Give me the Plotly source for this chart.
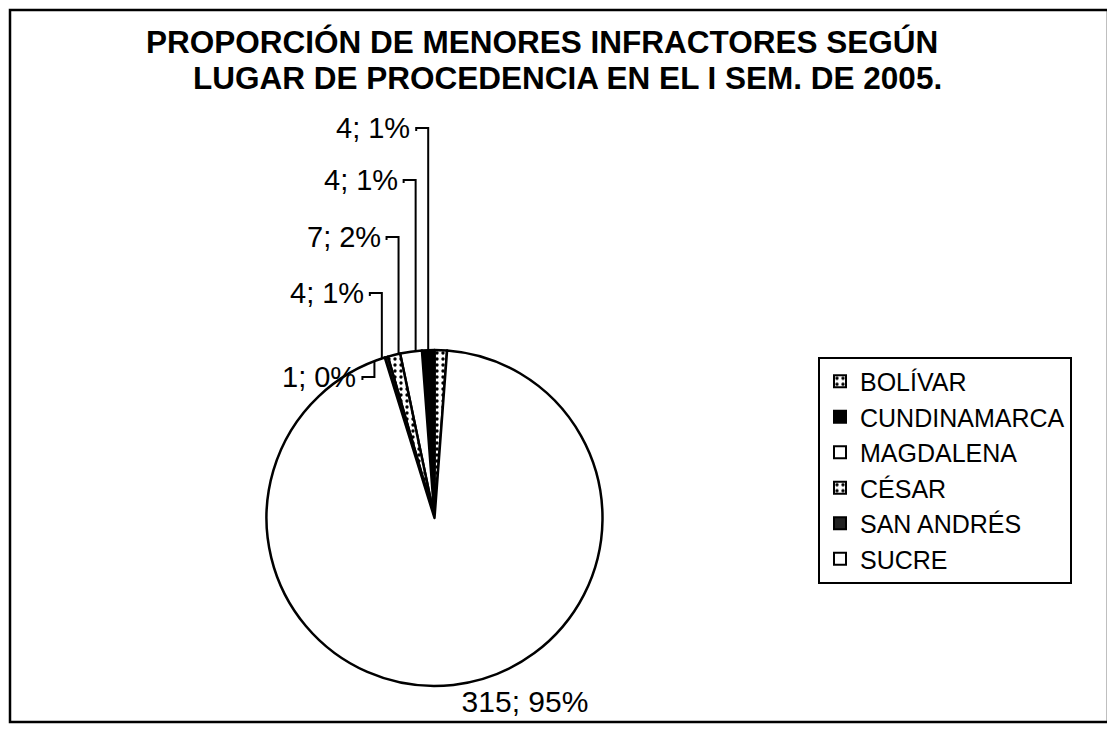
import math
import plotly.graph_objects as go

# ---- data ----
regions = ["BOLÍVAR", "CUNDINAMARCA", "MAGDALENA", "CÉSAR", "SAN ANDRÉS", "SUCRE"]
counts = [4, 4, 7, 4, 1, 315]
pct_labels = ["1%", "1%", "2%", "1%", "0%", "95%"]
title_lines = ["PROPORCIÓN DE MENORES INFRACTORES SEGÚN",
               "LUGAR DE PROCEDENCIA EN EL I SEM. DE 2005."]

# ---- styling / layout (screen pixel targets) ----
fill_colors = ["white", "black", "white", "white", "#222222", "white"]
patterns = [".", "", "", ".", "", ""]
label_y_px = [128, 180, 237, 293, 377]      # stacked label rows for the small slices

OX, OY = 8, 8                 # page body margin
W, H = 1107, 724              # figure size so page fits the 1115x732 window
PIE_CX, PIE_CY, PIE_R = 434.5, 518.0, 168.0
FONT = "Liberation Sans, Arial, sans-serif"


def fx(sx):
    return (sx - OX) / W


def fy(sy):
    return 1 - (sy - OY) / H


dom_x = [fx(PIE_CX - PIE_R), fx(PIE_CX + PIE_R)]
dom_y = [fy(PIE_CY + PIE_R), fy(PIE_CY - PIE_R)]

n = len(counts)
big = n - 1
text_pos = ["none"] * big + ["outside"]

fig = go.Figure()
fig.add_trace(go.Pie(
    labels=regions,
    values=counts,
    text=pct_labels,
    texttemplate="%{value}; %{text}",
    textposition=text_pos,
    textfont=dict(family=FONT, size=30, color="black"),
    sort=False,
    direction="counterclockwise",
    rotation=0,
    marker=dict(
        colors=fill_colors,
        line=dict(color="black", width=2.5),
        pattern=dict(shape=patterns, fgcolor="black", bgcolor="white",
                     size=6, solidity=0.25),
    ),
    domain=dict(x=dom_x, y=dom_y),
    hoverinfo="label+value+percent",
))

# outside labels with elbow leader lines for the small slices
total = sum(counts)
annotations = []
shapes = []
cum = 0.0
for i in range(big):
    mid = (cum + counts[i] / 2) / total * 2 * math.pi
    cum += counts[i]
    rx = PIE_CX - PIE_R * math.sin(mid)
    ry = PIE_CY - PIE_R * math.cos(mid)
    ly = label_y_px[i]
    annotations.append(dict(
        text=f"{counts[i]}; {pct_labels[i]}",
        x=fx(rx - 16), y=fy(ly), xref="paper", yref="paper",
        xanchor="right", yanchor="middle", showarrow=False,
        font=dict(family=FONT, size=29, color="black"),
    ))
    shapes.append(dict(
        type="path", xref="paper", yref="paper",
        path=f"M{fx(rx - 12)},{fy(ly + 3)} L{fx(rx - 12)},{fy(ly)} L{fx(rx)},{fy(ly)} L{fx(rx)},{fy(ry)}",
        line=dict(color="black", width=2),
    ))

title_centers = [(542, 42), (567, 78)]
for line, (cx, cy) in zip(title_lines, title_centers):
    annotations.append(dict(
        text=line, x=fx(cx), y=fy(cy), xref="paper", yref="paper",
        xanchor="center", yanchor="middle", showarrow=False,
        font=dict(family=FONT, size=31.5, color="black", weight="bold"),
    ))

# chart-area border
shapes.append(dict(type="rect", xref="paper", yref="paper",
                   x0=fx(10), x1=fx(1108), y0=fy(722), y1=fy(10),
                   line=dict(color="black", width=2.5),
                   fillcolor="rgba(0,0,0,0)"))

fig.update_layout(
    width=W, height=H,
    margin=dict(l=0, r=0, t=0, b=0),
    paper_bgcolor="white",
    plot_bgcolor="white",
    font=dict(family=FONT, color="black"),
    showlegend=True,
    legend=dict(
        x=fx(818), y=fy(470), xanchor="left", yanchor="middle",
        bgcolor="white", bordercolor="black", borderwidth=2,
        font=dict(family=FONT, size=25, color="black"),
        tracegroupgap=0, itemsizing="constant",
    ),
    annotations=annotations,
    shapes=shapes,
)

fig.write_html("out.html")
